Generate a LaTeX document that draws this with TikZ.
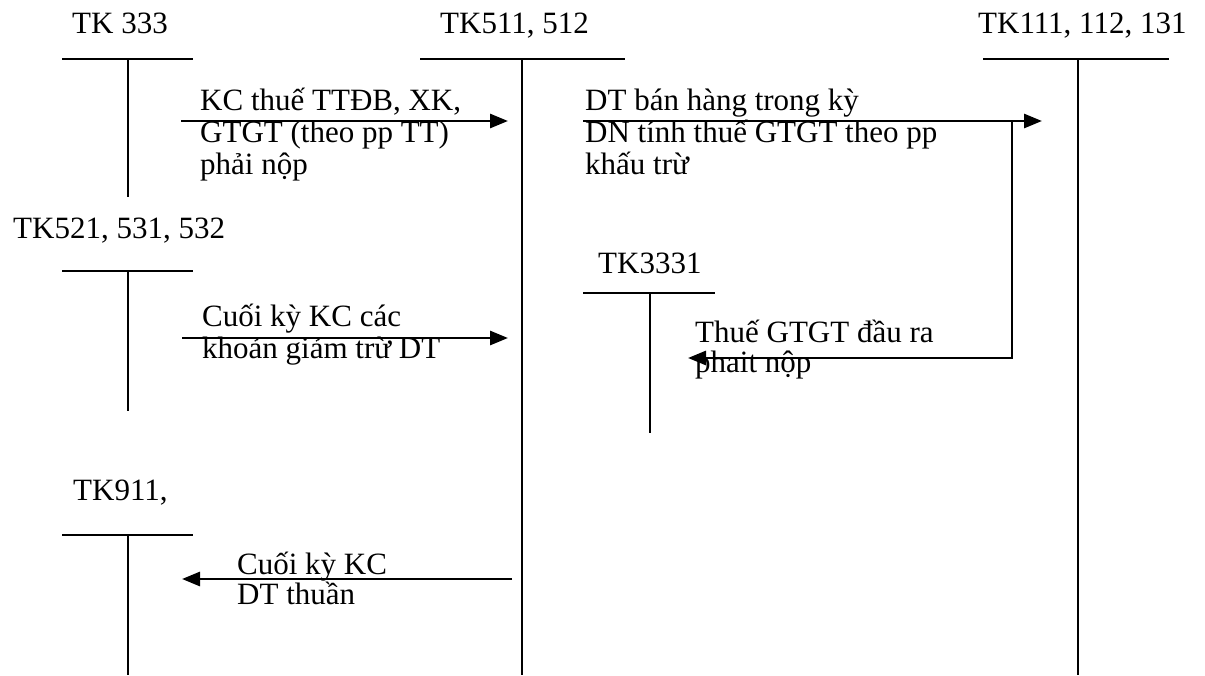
\documentclass[tikz,border=0pt]{standalone}
\usepackage{fontspec}
\setmainfont{Liberation Serif}
\usetikzlibrary{arrows.meta}
\begin{document}
\begin{tikzpicture}[x=1pt,y=-1pt,
  lbl/.style={anchor=base west,inner sep=0pt,font=\fontsize{31}{30}\selectfont},
  % multi-line notes are placed by the baseline of their last line
  note/.style={lbl,align=left},
  wide/.style={font=\fontsize{31}{32}\selectfont},
  tline/.style={line width=1.9pt},
  flow/.style={line width=2.8pt,-{Triangle[length=18pt,width=14pt]}},
]
\useasboundingbox[fill=white] (0,0) rectangle (1205,675);

% ---- T-account TK 333
\node[lbl] (n333) at (72,33) {TK 333};
\coordinate (t333l) at (62,59);  \coordinate (t333r) at (193,59);
\coordinate (t333t) at (128,59); \coordinate (t333b) at (128,197);
\draw[tline] (t333l) -- (t333r) (t333t) -- (t333b);

% ---- T-account TK511, 512
\node[lbl] (n511) at (440,33) {TK511, 512};
\coordinate (t511l) at (420,59); \coordinate (t511r) at (625,59);
\coordinate (t511t) at (522,59); \coordinate (t511b) at (522,675);
\draw[tline] (t511l) -- (t511r) (t511t) -- (t511b);

% ---- T-account TK111, 112, 131
\node[lbl] (n111) at (978,33) {TK111, 112, 131};
\coordinate (t111l) at (983,59);  \coordinate (t111r) at (1169,59);
\coordinate (t111t) at (1078,59); \coordinate (t111b) at (1078,675);
\draw[tline] (t111l) -- (t111r) (t111t) -- (t111b);

% ---- T-account TK521, 531, 532
\node[lbl] (n521) at (13,238) {TK521, 531, 532};
\coordinate (t521l) at (62,271);  \coordinate (t521r) at (193,271);
\coordinate (t521t) at (128,271); \coordinate (t521b) at (128,411);
\draw[tline] (t521l) -- (t521r) (t521t) -- (t521b);

% ---- T-account TK3331
\node[lbl] (n3331) at (598,273) {TK3331};
\coordinate (t3331l) at (583,293); \coordinate (t3331r) at (715,293);
\coordinate (t3331t) at (650,293); \coordinate (t3331b) at (650,433);
\draw[tline] (t3331l) -- (t3331r) (t3331t) -- (t3331b);

% ---- T-account TK911
\node[lbl] (n911) at (73,500) {TK911,};
\coordinate (t911l) at (62,535);  \coordinate (t911r) at (193,535);
\coordinate (t911t) at (128,535); \coordinate (t911b) at (128,675);
\draw[tline] (t911l) -- (t911r) (t911t) -- (t911b);

% ---- entries
\coordinate (f1s) at (181,121); \coordinate (f1e) at (508,121);
\draw[flow] (f1s) -- (f1e);
\node[note,wide] (m1) at (200,174) {KC thuế TTĐB, XK,\\GTGT (theo pp TT)\\phải nộp};

\coordinate (f2s) at (583,121); \coordinate (f2e) at (1042,121);
\draw[flow] (f2s) -- (f2e);
\node[note,wide] (m2) at (585,174) {DT bán hàng trong kỳ\\DN tính thuế GTGT theo pp\\khấu trừ};

\coordinate (f3s) at (1012,121); \coordinate (f3m) at (1012,358);
\coordinate (f3e) at (688,358);
\draw[flow] (f3s) -- (f3m) -- (f3e);
\node[note] (m3) at (695,372) {Thuế GTGT đầu ra\\phait nộp};

\coordinate (f4s) at (182,338); \coordinate (f4e) at (508,338);
\draw[flow] (f4s) -- (f4e);
\node[note,wide] (m4) at (202,358) {Cuối kỳ KC các\\khoản giảm trừ DT};

\coordinate (f5s) at (512,579); \coordinate (f5e) at (182,579);
\draw[flow] (f5s) -- (f5e);
\node[note] (m5) at (237,604) {Cuối kỳ KC\\DT thuần};
\end{tikzpicture}
\end{document}
